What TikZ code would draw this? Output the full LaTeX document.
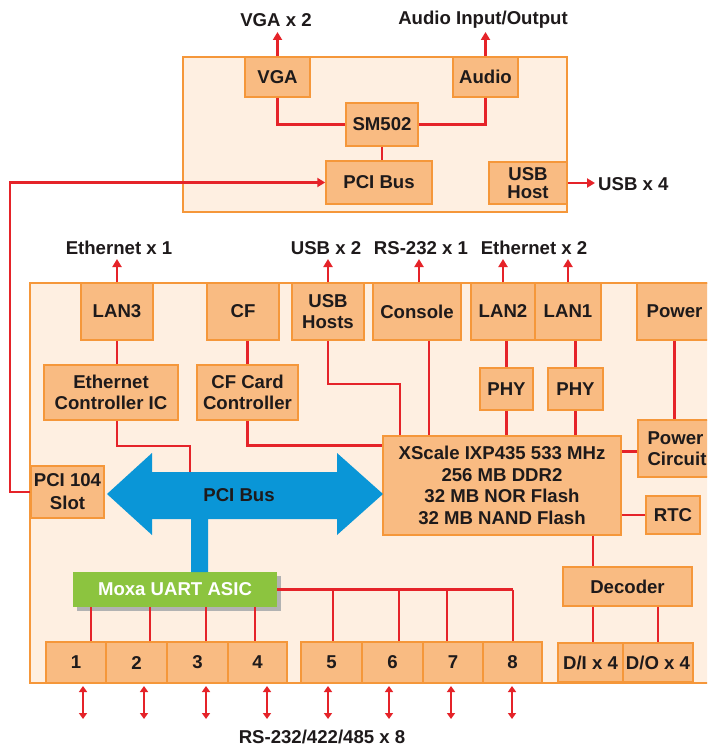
\documentclass[tikz,border=0pt]{standalone}
\usepackage{fontspec}
\setmainfont{Liberation Sans}
\usetikzlibrary{arrows.meta,shadows}
\definecolor{bfill}{HTML}{F9BB82}
\definecolor{bdraw}{HTML}{F5973A}
\definecolor{bg}{HTML}{FEEFE1}
\definecolor{rl}{HTML}{E52329}
\definecolor{bl}{HTML}{0A96D7}
\definecolor{gr}{HTML}{8CC43F}
\definecolor{tx}{HTML}{1E1A1B}
\begin{document}
\begin{tikzpicture}[x=1pt,y=-1pt,
 blk/.style={draw=bdraw, fill=bfill, line width=1.5pt, inner sep=0pt, align=center,
   font=\fontsize{18.6}{21}\selectfont\bfseries, text=tx},
 panel/.style={draw=bdraw, fill=bg, line width=1.5pt},
 lbl/.style={font=\fontsize{18.6}{21}\selectfont\bfseries, text=tx, inner sep=0pt},
 wire/.style={draw=rl, line width=2.8pt},
 arr/.style={wire, -{Triangle[length=8pt,width=9pt]}},
 darr/.style={draw=rl, line width=2.2pt, {Triangle[length=6pt,width=8pt]}-{Triangle[length=6pt,width=8pt]}},
]
\path[use as bounding box] (0,0) rectangle (707,749);
\clip (0,0) rectangle (707,749);
\fill[white] (0,0) rectangle (707,749);

% panels
\draw[panel] (183,57) rectangle (567,212);
\draw[panel] (30,283) rectangle (716,683);

% top board
\node[blk, minimum width=65pt, minimum height=40pt] (VGA) at (277.5,77) {VGA};
\node[blk, minimum width=65pt, minimum height=40pt] (Audio) at (485.5,77) {Audio};
\node[blk, minimum width=72pt, minimum height=43pt] (SM) at (382,124.5) {SM502};
\node[blk, minimum width=106pt, minimum height=43pt] (PCItop) at (379,182.5) {PCI Bus};
\node[blk, minimum width=78pt, minimum height=42pt, font=\fontsize{18.6}{18}\selectfont\bfseries] (USBH) at (528,183) {USB\\Host};

% main board top row
\node[blk, minimum width=72pt, minimum height=57pt] (LAN3) at (117,311.5) {LAN3};
\node[blk, minimum width=72pt, minimum height=57pt] (CF) at (243,311.5) {CF};
\node[blk, minimum width=72pt, minimum height=57pt] (USBs) at (328,311.5) {USB\\Hosts};
\node[blk, minimum width=88pt, minimum height=57pt] (Cons) at (417,311.5) {Console};
\node[blk, minimum width=64pt, minimum height=57pt] (LAN2) at (503,311.5) {LAN2};
\node[blk, minimum width=66pt, minimum height=57pt] (LAN1) at (568,311.5) {LAN1};
\node[blk, minimum width=75pt, minimum height=57pt] (Pow) at (674.5,311.5) {Power};

% second row
\node[blk, minimum width=134pt, minimum height=55pt] (Eth) at (111,392.5) {Ethernet\\Controller IC};
\node[blk, minimum width=101pt, minimum height=55pt] (CFC) at (247.5,392.5) {CF Card\\Controller};
\node[blk, minimum width=53pt, minimum height=42pt] (PHYa) at (506.5,389) {PHY};
\node[blk, minimum width=55pt, minimum height=42pt] (PHYb) at (575.5,389) {PHY};
\node[blk, minimum width=74pt, minimum height=57pt, align=left] (PowC) at (675,448.5) {\hspace*{4pt}Power\\\hspace*{4pt}Circuit};

% CPU etc
\node[blk, minimum width=238pt, minimum height=99pt, font=\fontsize{18.6}{21.5}\selectfont\bfseries] (CPU) at (502,485.5)
  {XScale IXP435 533 MHz\\256 MB DDR2\\32 MB NOR Flash\\32 MB NAND Flash};
\node[blk, minimum width=54pt, minimum height=38pt] (RTC) at (673,515) {RTC};
\node[blk, minimum width=129pt, minimum height=39pt] (Dec) at (627.5,586.5) {Decoder};
\node[blk, minimum width=65pt, minimum height=39pt] (DI) at (590.5,662.5) {D/I x 4};
\node[blk, minimum width=70pt, minimum height=39pt] (DO) at (658,662.5) {D/O x 4};
\node[blk, minimum width=73pt, minimum height=52pt, font=\fontsize{18.6}{23}\selectfont\bfseries] (PCI104) at (67.5,492) {PCI 104\\Slot};

% ports
\foreach \n/\cx/\w in {1/76/60,2/136.5/61,3/197.5/61,4/257.5/59,5/331.5/61,6/392.5/61,7/453/60,8/512.5/59}
  \node[blk, minimum width=\w pt, minimum height=41pt] (p\n) at (\cx,662.5) {\n};

% Moxa ASIC
\node[draw=none, fill=gr, minimum width=204pt, minimum height=35pt, inner sep=0pt,
  font=\fontsize{18.6}{21}\selectfont\bfseries, text=white,
  drop shadow={shadow xshift=4pt, shadow yshift=-4pt, fill=black!30, opacity=1}] (Moxa) at (175,589.5) {Moxa UART ASIC};

% outside labels
\node[lbl] (lVGA) at (276,20) {VGA x 2};
\node[lbl] (lAud) at (483,20) {Audio Input/Output};
\node[lbl, anchor=west] (lUSB4) at (598,184) {USB x 4};
\node[lbl] (lEth1) at (119,248) {Ethernet x 1};
\node[lbl] (lUSB2) at (326,248) {USB x 2};
\node[lbl] (lRS) at (421,248) {RS-232 x 1};
\node[lbl] (lEth2) at (534,248) {Ethernet x 2};
\node[lbl] (lRS8) at (322,737) {RS-232/422/485 x 8};

% top board wiring
\draw[wire] (VGA.south) |- (SM.west);
\draw[wire] (Audio.south) |- (SM.east);
\draw[wire] (SM.south) -- (PCItop.north -| SM.south);
\draw[arr] (VGA.north) -- (VGA.north |- 0,32);
\draw[arr] (Audio.north) -- (Audio.north |- 0,32);
\draw[arr] (USBH.east) -- (USBH.east -| 595,0);
\coordinate (bend) at (10,182.5);
\draw[arr] (PCI104.west) -| (bend) -- (PCItop.west);

% main board outputs
\draw[arr] (LAN3.north) -- (LAN3.north |- 0,259);
\draw[arr] (USBs.north) -- (USBs.north |- 0,259);
\draw[arr] ([xshift=2pt]Cons.north) -- ([xshift=2pt]Cons.north |- 0,259);
\draw[arr] (LAN2.north) -- (LAN2.north |- 0,259);
\draw[arr] (LAN1.north) -- (LAN1.north |- 0,259);

% main board wiring
\draw[wire] (LAN3.south) -- (LAN3.south |- Eth.north);
\draw[wire] (Eth.south -| LAN3.south) |- (190,446) -- (190,472);
\draw[wire] (CF.south -| CFC.north) -- (CFC.north);
\draw[wire] (CFC.south) |- ([yshift=-10pt]CPU.north west);
\draw[wire] (USBs.south) |- (400,384) -- (CPU.north -| 400,0);
\draw[wire] ([xshift=12pt]Cons.south) -- ([xshift=12pt]Cons.south |- CPU.north);
\draw[wire] (LAN2.south -| PHYa.north) -- (PHYa.north);
\draw[wire] (PHYa.south) -- (PHYa.south |- CPU.north);
\draw[wire] (LAN1.south -| PHYb.north) -- (PHYb.north);
\draw[wire] (PHYb.south) -- (PHYb.south |- CPU.north);
\draw[wire] (Pow.south) -- (Pow.south |- PowC.north);
\draw[wire] ([yshift=-3pt]PowC.west) -- ([yshift=-3pt]PowC.west -| CPU.east);
\draw[wire] (RTC.west) -- (RTC.west -| CPU.east);
\draw[wire] (CPU.south -| 593,0) -- (Dec.north -| 593,0);
\draw[wire] (Dec.south -| 593,0) -- (DI.north -| 593,0);
\draw[wire] (Dec.south -| DO.north) -- (DO.north);

% UART wiring
\foreach \x/\p in {91/p1,150/p2,206/p3,255/p4}
  \draw[wire] (Moxa.south -| \x,0) -- (\p.north -| \x,0);
\draw[wire] (Moxa.east) -- (Moxa.east -| 513,0);
\foreach \x/\p in {333/p5,399/p6,447/p7,513/p8}
  \draw[wire] (Moxa.east -| \x,0) -- (\p.north -| \x,0);

% serial arrows
\foreach \x in {83,144,206,267,328,389,451,512}
  \draw[darr] (\x,686) -- (\x,719);

% blue PCI bus
\fill[bl] (107,494) -- (152,453) -- (152,472) -- (337,472) -- (337,453) -- (383,494)
  -- (337,535) -- (337,519) -- (208,519) -- (208,572) -- (191,572) -- (191,519)
  -- (152,519) -- (152,535) -- cycle;
\node[lbl] (lPCI) at (239,495) {PCI Bus};
\end{tikzpicture}
\end{document}
